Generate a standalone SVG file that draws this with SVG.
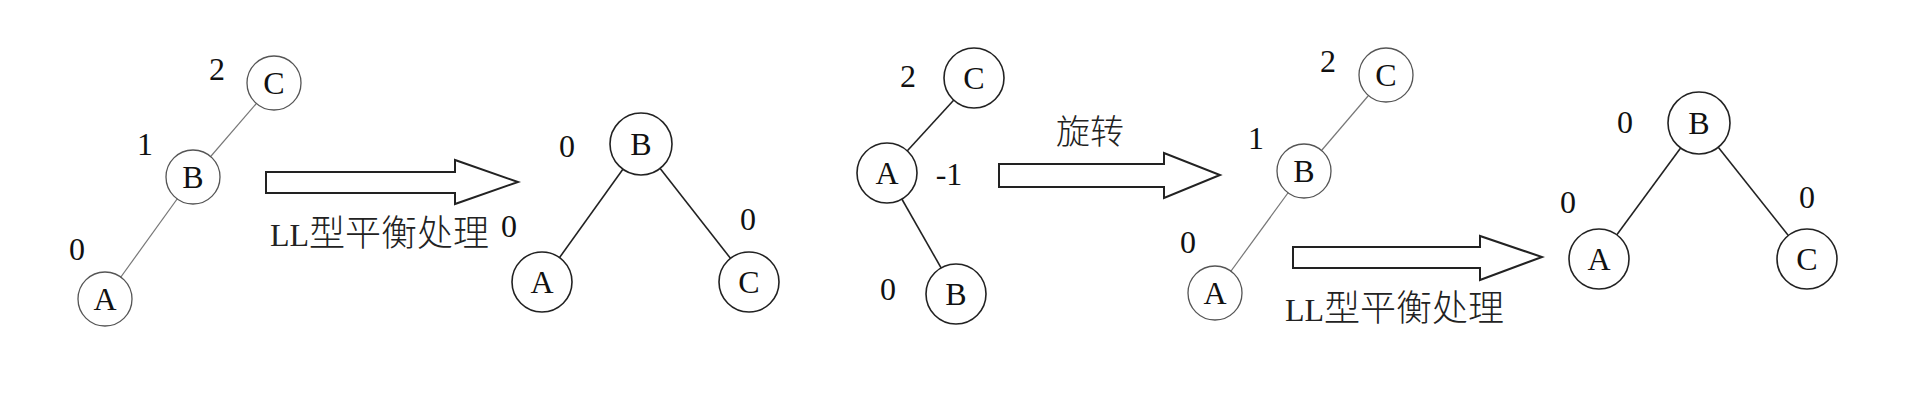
<svg xmlns="http://www.w3.org/2000/svg" width="1920" height="400" viewBox="0 0 1920 400">
<style>
.bg{fill:#fff}
.n{fill:#fff;stroke:#222;stroke-width:1.6}
.nt{fill:#fff;stroke:#555;stroke-width:1.3}
.e{stroke:#222;stroke-width:1.6;fill:none}
.et{stroke:#777;stroke-width:1.2;fill:none}
.l{font-family:"Liberation Serif",serif;font-size:32px;fill:#111;text-anchor:middle}
.d{font-family:"Liberation Serif",serif;font-size:32px;fill:#111;text-anchor:middle}
.arr{fill:#fff;stroke:#222;stroke-width:2;stroke-linejoin:miter}
.cap{font-family:"Liberation Serif","Noto Sans CJK SC",serif;font-size:32px;fill:#222}
.cjk{font-family:"Noto Sans CJK SC",sans-serif;font-size:36px;font-weight:300}
</style>
<rect class="bg" x="0" y="0" width="1920" height="400"/>

<g id="connectors">
  <line class="et" x1="274" y1="83" x2="193" y2="177"/>
  <line class="et" x1="193" y1="177" x2="105" y2="299"/>
  <line class="e" x1="641" y1="144" x2="542" y2="282"/>
  <line class="e" x1="641" y1="144" x2="749" y2="282"/>
  <line class="e" x1="974" y1="78" x2="887" y2="173"/>
  <line class="e" x1="887" y1="173" x2="956" y2="294"/>
  <line class="et" x1="1386" y1="75" x2="1304" y2="171"/>
  <line class="et" x1="1304" y1="171" x2="1215" y2="293"/>
  <line class="e" x1="1699" y1="123" x2="1599" y2="259"/>
  <line class="e" x1="1699" y1="123" x2="1807" y2="259"/>
</g>

<g id="arrow1">
  <polygon class="arr" points="266,172 455,172 455,160 518,182 455,204 455,193 266,193"/>
  <text class="cap" x="270" y="246">LL<tspan class="cjk">型平衡处理</tspan></text>
</g>
<g id="arrow2">
  <polygon class="arr" points="999,164 1164,164 1164,153 1220,175 1164,198 1164,187 999,187"/>
  <text class="cap cjk" x="1056" y="144" style="font-size:34px">旋转</text>
</g>
<g id="arrow3">
  <polygon class="arr" points="1293,247 1480,247 1480,236 1542,257 1480,280 1480,268 1293,268"/>
  <text class="cap" x="1285" y="321">LL<tspan class="cjk">型平衡处理</tspan></text>
</g>

<g id="t1C"><circle class="nt" cx="274" cy="83" r="27"/><text class="l" x="274" y="94">C</text><text class="d" x="217" y="80">2</text></g>
<g id="t1B"><circle class="nt" cx="193" cy="177" r="27"/><text class="l" x="193" y="188">B</text><text class="d" x="145" y="155">1</text></g>
<g id="t1A"><circle class="nt" cx="105" cy="299" r="27"/><text class="l" x="105" y="310">A</text><text class="d" x="77" y="260">0</text></g>

<g id="t2B"><circle class="n" cx="641" cy="144" r="31"/><text class="l" x="641" y="155">B</text><text class="d" x="567" y="157">0</text></g>
<g id="t2A"><circle class="n" cx="542" cy="282" r="30"/><text class="l" x="542" y="293">A</text><text class="d" x="509" y="237">0</text></g>
<g id="t2C"><circle class="n" cx="749" cy="282" r="30"/><text class="l" x="749" y="293">C</text><text class="d" x="748" y="230">0</text></g>

<g id="t3C"><circle class="n" cx="974" cy="78" r="30"/><text class="l" x="974" y="89">C</text><text class="d" x="908" y="87">2</text></g>
<g id="t3A"><circle class="n" cx="887" cy="173" r="30"/><text class="l" x="887" y="184">A</text><text class="d" x="949" y="185">-1</text></g>
<g id="t3B"><circle class="n" cx="956" cy="294" r="30"/><text class="l" x="956" y="305">B</text><text class="d" x="888" y="300">0</text></g>

<g id="t4C"><circle class="nt" cx="1386" cy="75" r="27"/><text class="l" x="1386" y="86">C</text><text class="d" x="1328" y="72">2</text></g>
<g id="t4B"><circle class="nt" cx="1304" cy="171" r="27"/><text class="l" x="1304" y="182">B</text><text class="d" x="1256" y="149">1</text></g>
<g id="t4A"><circle class="nt" cx="1215" cy="293" r="27"/><text class="l" x="1215" y="304">A</text><text class="d" x="1188" y="253">0</text></g>

<g id="t5B"><circle class="n" cx="1699" cy="123" r="31"/><text class="l" x="1699" y="134">B</text><text class="d" x="1625" y="133">0</text></g>
<g id="t5A"><circle class="n" cx="1599" cy="259" r="30"/><text class="l" x="1599" y="270">A</text><text class="d" x="1568" y="213">0</text></g>
<g id="t5C"><circle class="n" cx="1807" cy="259" r="30"/><text class="l" x="1807" y="270">C</text><text class="d" x="1807" y="208">0</text></g>
</svg>
